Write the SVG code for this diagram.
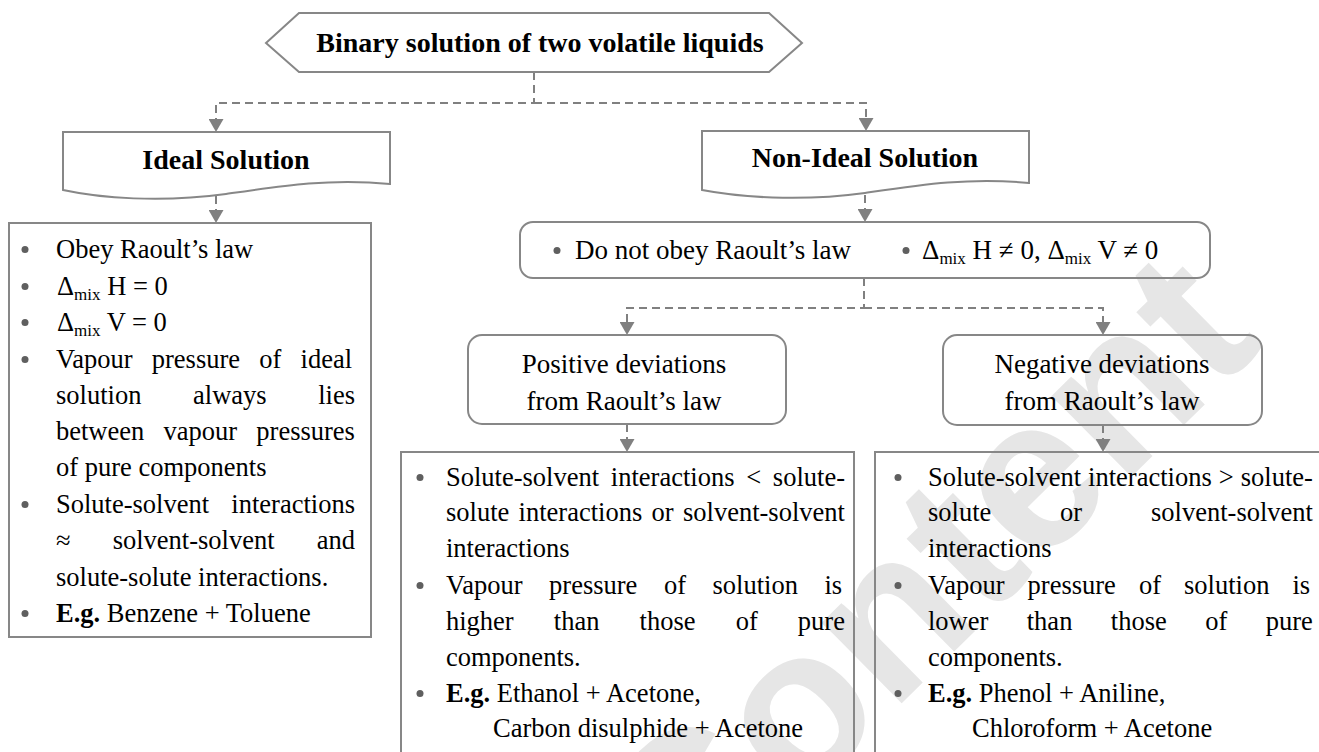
<svg xmlns="http://www.w3.org/2000/svg" width="1319" height="752" viewBox="0 0 1319 752">
<defs>
<style>
.t{font-family:"Liberation Serif","Times New Roman",serif;font-size:26.5px;fill:#000}
.t27{font-size:27px}
.hb{font-family:"Liberation Serif","Times New Roman",serif;font-size:28px;font-weight:bold;fill:#000}
.b{font-weight:bold}
.sub{font-size:17px}
.box{fill:none;stroke:#878787;stroke-width:2}
.con{fill:none;stroke:#808080;stroke-width:2;stroke-dasharray:8 5}
.dot{fill:#5f5f5f}
.wm{font-family:"Liberation Sans",Arial,sans-serif;font-weight:bold;font-size:215px;fill:#e6e6e6}
</style>
<marker id="ah" markerUnits="userSpaceOnUse" markerWidth="13" markerHeight="15" viewBox="0 0 13 15" refX="0" refY="7.5" orient="auto">
<path d="M0,0 L13,7.5 L0,15 Z" fill="#808080"/>
</marker>
</defs>

<g id="watermark">
<text class="wm" x="687" y="915" transform="rotate(-44.6 687 915)">Content</text>
</g>

<g id="connectors">
<path class="con" d="M534,72 V103 H216 V119" marker-end="url(#ah)"/>
<path class="con" d="M534,103 H866 V118" marker-end="url(#ah)"/>
<path class="con" d="M216,196 V210" marker-end="url(#ah)"/>
<path class="con" d="M865,195 V209" marker-end="url(#ah)"/>
<path class="con" d="M864,278 V308 H627 V322" marker-end="url(#ah)"/>
<path class="con" d="M864,308 H1103 V322" marker-end="url(#ah)"/>
<path class="con" d="M627,424 V439" marker-end="url(#ah)"/>
<path class="con" d="M1103,425 V439" marker-end="url(#ah)"/>
</g>

<g id="root">
<path class="box" d="M266,43 L299,13 L769,13 L802,43 L769,72 L299,72 Z"/>
<text class="hb" x="540" y="52" text-anchor="middle">Binary solution of two volatile liquids</text>
</g>

<g id="ideal-head">
<path class="box" d="M63,132 H390 V184 C330,178 280,186 226,194 C160,203 100,198 63,190 Z"/>
<text class="hb" x="226" y="169" text-anchor="middle">Ideal Solution</text>
</g>

<g id="nonideal-head">
<path class="box" d="M702,131 H1029 V183 C969,177 919,185 865,193 C799,202 739,197 702,190 Z"/>
<text class="hb" x="865" y="167" text-anchor="middle">Non-Ideal Solution</text>
</g>

<g id="ideal-box">
<rect class="box" x="9" y="223" width="362" height="414"/>
<circle class="dot" cx="25" cy="249.5" r="3.5"/>
<circle class="dot" cx="25" cy="286.5" r="3.5"/>
<circle class="dot" cx="25" cy="322.5" r="3.5"/>
<circle class="dot" cx="25" cy="359.5" r="3.5"/>
<circle class="dot" cx="25" cy="504.5" r="3.5"/>
<circle class="dot" cx="25" cy="613.5" r="3.5"/>
<text class="t" x="56" y="258">Obey Raoult’s law</text>
<text class="t" x="57" y="295">Δ<tspan class="sub" dy="5">mix</tspan><tspan dy="-5"> H = 0</tspan></text>
<text class="t" x="57" y="331">Δ<tspan class="sub" dy="5">mix</tspan><tspan dy="-5"> V = 0</tspan></text>
<text class="t" x="56" y="368" word-spacing="12.6">Vapour pressure of ideal</text>
<text class="t" x="56" y="404" word-spacing="45">solution always lies</text>
<text class="t" x="56" y="440" word-spacing="12.6">between vapour pressures</text>
<text class="t" x="56" y="476">of pure components</text>
<text class="t" x="56" y="513" word-spacing="15.6">Solute-solvent interactions</text>
<text class="t" x="56" y="549" word-spacing="35.5">≈ solvent-solvent and</text>
<text class="t" x="56" y="586">solute-solute interactions.</text>
<text class="t" x="56" y="622"><tspan class="b">E.g.</tspan> Benzene + Toluene</text>
</g>

<g id="nonideal-box">
<rect class="box" x="520" y="222" width="690" height="56" rx="13" ry="13"/>
<circle class="dot" cx="557" cy="250.5" r="3.5"/>
<circle class="dot" cx="906" cy="250.5" r="3.5"/>
<text class="t t27" x="575" y="259">Do not obey Raoult’s law</text>
<text class="t t27" x="922" y="259">Δ<tspan class="sub" dy="5">mix</tspan><tspan dy="-5"> H ≠ 0, Δ</tspan><tspan class="sub" dy="5">mix</tspan><tspan dy="-5"> V ≠ 0</tspan></text>
</g>

<g id="positive-head">
<rect class="box" x="468" y="335" width="318" height="89" rx="14" ry="14"/>
<text class="t t27" x="624" y="373" text-anchor="middle">Positive deviations</text>
<text class="t t27" x="624" y="410" text-anchor="middle">from Raoult’s law</text>
</g>

<g id="negative-head">
<rect class="box" x="943" y="335" width="319" height="90" rx="14" ry="14"/>
<text class="t t27" x="1102" y="373" text-anchor="middle">Negative deviations</text>
<text class="t t27" x="1102" y="410" text-anchor="middle">from Raoult’s law</text>
</g>

<g id="positive-box">
<path class="box" d="M401,800 V452 H854 V800"/>
<circle class="dot" cx="420" cy="477.5" r="3.5"/>
<circle class="dot" cx="420" cy="585.5" r="3.5"/>
<circle class="dot" cx="420" cy="693.5" r="3.5"/>
<text class="t" x="446" y="486" word-spacing="5.1">Solute-solvent interactions &lt; solute-</text>
<text class="t" x="446" y="521" word-spacing="2.7">solute interactions or solvent-solvent</text>
<text class="t" x="446" y="557">interactions</text>
<text class="t" x="446" y="594" word-spacing="19.9">Vapour pressure of solution is</text>
<text class="t" x="446" y="630" word-spacing="33.5">higher than those of pure</text>
<text class="t" x="446" y="666">components.</text>
<text class="t" x="446" y="702"><tspan class="b">E.g.</tspan> Ethanol + Acetone,</text>
<text class="t" x="493" y="737">Carbon disulphide + Acetone</text>
</g>

<g id="negative-box">
<path class="box" d="M875,800 V452 H1340"/>
<circle class="dot" cx="898" cy="477.5" r="3.5"/>
<circle class="dot" cx="898" cy="585.5" r="3.5"/>
<circle class="dot" cx="898" cy="693.5" r="3.5"/>
<text class="t" x="928" y="486" word-spacing="0.4">Solute-solvent interactions &gt; solute-</text>
<text class="t" x="928" y="521" word-spacing="62.2">solute or solvent-solvent</text>
<text class="t" x="928" y="557">interactions</text>
<text class="t" x="928" y="594" word-spacing="16.4">Vapour pressure of solution is</text>
<text class="t" x="928" y="630" word-spacing="31.8">lower than those of pure</text>
<text class="t" x="928" y="666">components.</text>
<text class="t" x="928" y="702"><tspan class="b">E.g.</tspan> Phenol + Aniline,</text>
<text class="t" x="972" y="737">Chloroform + Acetone</text>
</g>
</svg>
